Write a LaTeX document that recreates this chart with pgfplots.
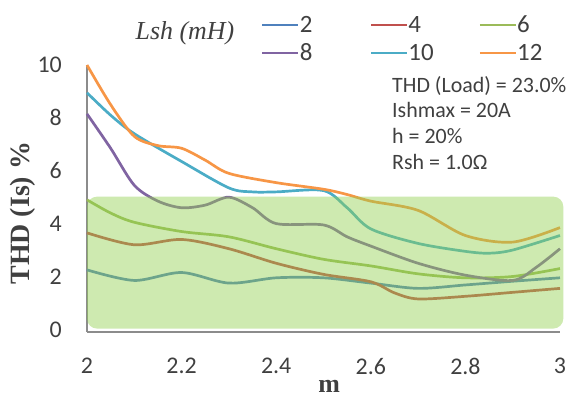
\documentclass[border=0pt]{standalone}
\usepackage{fontspec}
\setmainfont{Carlito}
\newfontfamily\seriffont{Liberation Serif}
\usepackage{pgfplots}
\pgfplotsset{compat=1.18}

\definecolor{c2}{RGB}{79,129,189}
\definecolor{c4}{RGB}{192,80,77}
\definecolor{c6}{RGB}{155,187,89}
\definecolor{c8}{RGB}{128,100,162}
\definecolor{c10}{RGB}{75,172,198}
\definecolor{c12}{RGB}{247,150,70}
\definecolor{band}{RGB}{146,208,80}
\definecolor{axisgray}{RGB}{140,140,140}
\definecolor{txt}{RGB}{64,64,64}

\begin{document}
\begin{tikzpicture}
\useasboundingbox (0,0) rectangle (574bp,398bp);
\begin{axis}[
  at={(87bp,66bp)}, anchor=south west,
  scale only axis, width=473bp, height=267bp,
  xmin=2, xmax=3, ymin=-0.1, ymax=10,
  clip=false,
  axis x line*=bottom, axis y line*=left,
  axis line style={axisgray, line width=1.2bp, -},
  xtick={2,2.2,2.4,2.6,2.8,3},
  ytick={0,2,4,6,8,10},
  major tick length=0pt,
  /pgf/number format/assume math mode=true,
  tick label style={font=\fontsize{24}{28}\selectfont, text=txt, inner sep=0pt},
  xticklabel style={anchor=north, yshift=-26bp},
  yticklabel style={anchor=east, xshift=-25bp},
  xlabel={\seriffont\bfseries m},
  xlabel style={at={(axis description cs:0.512,0)}, anchor=base, yshift=-60bp,
                font=\fontsize{26}{30}\selectfont, text=txt},
  ylabel={\seriffont\bfseries THD (Is) \%},
  ylabel style={at={(axis description cs:-0.135,0.445)}, anchor=center,
                font=\fontsize{28}{32}\selectfont, text=txt},
  legend columns=3,
  legend image code/.code={\draw[#1] (0bp,8bp) -- (36bp,8bp);},
  legend style={draw=none, fill=none, at={(0.368,1.184)}, anchor=north west,
                inner sep=0pt, outer sep=0pt, column sep=0bp, row sep=11bp,
                font=\fontsize{25}{30}\selectfont, text=txt,
                nodes={inner sep=0pt, text height=17bp, text depth=0bp, anchor=base west}},
  every axis plot/.append style={line width=2.7bp, smooth},
]
% Lsh = 2 mH
\addplot[c2] coordinates {
  (2.0,2.25) (2.1,1.85) (2.2,2.15) (2.3,1.75) (2.4,1.95) (2.5,1.95)
  (2.6,1.75) (2.7,1.55) (2.8,1.68) (2.9,1.82) (3.0,1.95)};
\addlegendentry{\makebox[70bp][l]{2}}
% Lsh = 4 mH
\addplot[c4] coordinates {
  (2.0,3.65) (2.1,3.2) (2.2,3.4) (2.3,3.05) (2.4,2.5) (2.5,2.08)
  (2.6,1.8) (2.65,1.38) (2.7,1.15) (2.8,1.25) (2.9,1.4) (3.0,1.55)};
\addlegendentry{\makebox[70bp][l]{4}}
% Lsh = 6 mH
\addplot[c6] coordinates {
  (2.0,4.9) (2.05,4.4) (2.1,4.05) (2.2,3.7) (2.3,3.5) (2.4,3.05)
  (2.5,2.65) (2.6,2.4) (2.7,2.1) (2.8,1.95) (2.9,2.0) (3.0,2.3)};
\addlegendentry{\makebox[70bp][l]{6}}
% Lsh = 8 mH
\addplot[c8] coordinates {
  (2.0,8.15) (2.05,6.85) (2.1,5.45) (2.15,4.85) (2.2,4.6) (2.25,4.7)
  (2.3,5.0) (2.35,4.6) (2.4,4.0) (2.5,3.95) (2.55,3.5) (2.6,3.15)
  (2.7,2.5) (2.8,2.05) (2.9,1.85) (2.95,2.35) (3.0,3.05)};
\addlegendentry{\makebox[70bp][l]{8}}
% Lsh = 10 mH
\addplot[c10] coordinates {
  (2.0,8.95) (2.05,8.1) (2.1,7.4) (2.2,6.35) (2.3,5.35) (2.35,5.2)
  (2.4,5.2) (2.5,5.25) (2.55,4.6) (2.6,3.8) (2.7,3.25) (2.8,2.95)
  (2.85,2.88) (2.9,3.0) (3.0,3.55)};
\addlegendentry{\makebox[70bp][l]{10}}
% Lsh = 12 mH
\addplot[c12] coordinates {
  (2.0,10.0) (2.05,8.5) (2.1,7.3) (2.15,6.95) (2.2,6.85) (2.25,6.4)
  (2.3,5.9) (2.4,5.55) (2.5,5.3) (2.55,5.1) (2.6,4.85) (2.7,4.5)
  (2.8,3.55) (2.9,3.3) (3.0,3.85)};
\addlegendentry{\makebox[70bp][l]{12}}
% shaded acceptance band (THD below 5 %)
\fill[band, opacity=0.45, rounded corners=10bp]
  (axis cs:2,5.02) rectangle (axis cs:3.007,0.03);
\end{axis}
\node[font=\seriffont\itshape\fontsize{26}{30}\selectfont, text=txt, inner sep=0pt]
  at (185bp,365bp) {Lsh (mH)};
\node[anchor=north west, align=left, inner sep=0pt, text=txt,
      font=\fontsize{22}{25.7}\selectfont]
  at (392bp,322bp) {THD (Load) = 23.0\%\\ Ishmax = 20A\\ h = 20\%\\ Rsh = 1.0Ω};
\end{tikzpicture}
\end{document}
